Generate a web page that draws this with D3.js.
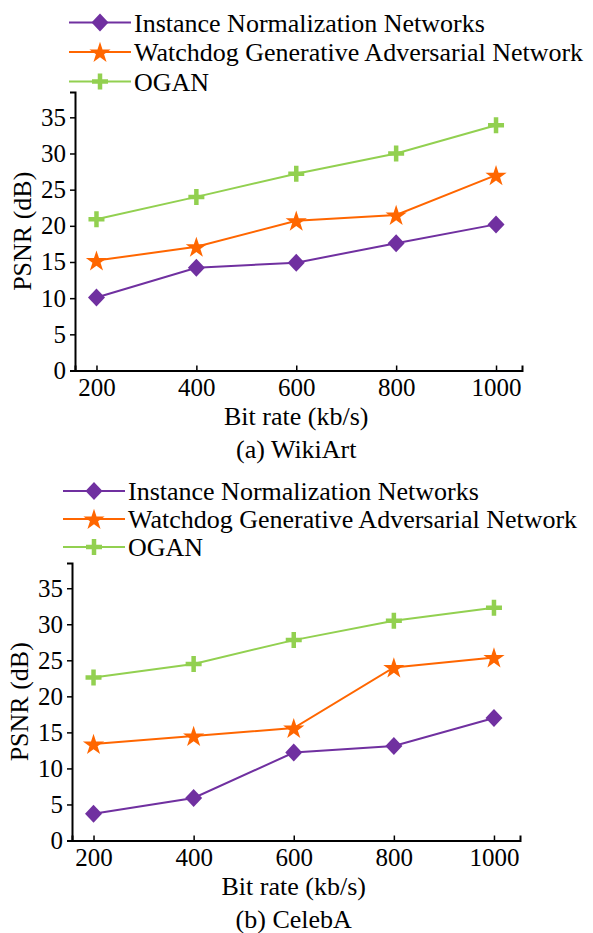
<!DOCTYPE html>
<html lang="en">
<head>
	<meta charset="UTF-8">
	<title>PSNR vs bit rate</title>
	<script src="https://d3js.org/d3.v7.min.js"></script>
	<style>
		body{ margin:0; background:#fff; }
	</style>
</head>
<body>
	<div id="chart"></div>
	<script>
		// data
		const bitRates=[200,400,600,800,1000];
		const seriesNames=["Instance Normalization Networks","Watchdog Generative Adversarial Network","OGAN"];
		const yTicks=[0,5,10,15,20,25,30,35];
		// (a) WikiArt
		const wikiInn=[10.1,14.2,14.9,17.6,20.2];
		const wikiWgan=[15.2,17.1,20.7,21.5,27.0];
		const wikiOgan=[20.9,24.0,27.2,30.0,33.9];
		// (b) CelebA
		const celebInn=[3.7,5.9,12.2,13.1,17.0];
		const celebWgan=[13.4,14.5,15.6,24.0,25.4];
		const celebOgan=[22.6,24.5,27.8,30.5,32.3];

		const colors=["#7030a0","#ff6600","#92d050"];
		const width=593, height=933;
		const font='"Liberation Serif"';

		const svg=d3.select('#chart').append('svg')
			.attr('width',width).attr('height',height);

		const star=d3.symbol().type(d3.symbolStar).size(140)();

		function drawMarker(g,i,x,y){
			if(i===0){
				g.append('path').attr('d',`M${x},${y-9}L${x+8.5},${y}L${x},${y+9}L${x-8.5},${y}Z`).attr('fill',colors[0]);
			}else if(i===1){
				g.append('path').attr('d',star).attr('transform',`translate(${x},${y+1})`).attr('fill',colors[1]);
			}else{
				g.append('path').attr('d',`M${x-8},${y}H${x+8}M${x},${y-8}V${y+8}`)
					.attr('stroke',colors[2]).attr('stroke-width',4.5).attr('fill','none');
			}
		}

		function label(g,size){
			return g.append('text').style('font-family',font).style('font-size',size).attr('fill','#000');
		}

		function panel(p){
			const g=svg.append('g');
			const x=d3.scaleLinear().domain([157,1052]).range([p.left,p.right]);
			const y=d3.scaleLinear().domain([0,38.5]).range([p.bottom,p.top]);

			//legend
			seriesNames.forEach((name,i)=>{
				const ly=p.legendTop+i*p.legendStep;
				g.append('line').attr('x1',p.legendX).attr('x2',p.legendX+62)
					.attr('y1',ly).attr('y2',ly).attr('stroke',colors[i]).attr('stroke-width',2);
				drawMarker(g,i,p.legendX+31,ly);
				label(g,'26px').attr('x',p.legendX+65).attr('y',ly).attr('dy','0.35em').text(name);
			});

			//axes
			const yAxis=d3.axisLeft(y).tickValues(yTicks).tickSize(5).tickPadding(4);
			const xAxis=d3.axisBottom(x).tickValues(bitRates).tickFormat(d3.format('d')).tickSize(-5).tickPadding(8);
			const ya=g.append('g').attr('transform',`translate(${p.left},0)`).call(yAxis);
			const xa=g.append('g').attr('transform',`translate(0,${p.bottom})`).call(xAxis);
			[ya,xa].forEach(a=>{
				a.select('.domain').attr('stroke','#000').attr('stroke-width',2);
				a.selectAll('.tick line').attr('stroke','#000').attr('stroke-width',1.5);
				a.selectAll('.tick text').style('font-size','25px').style('font-family',font);
			});

			label(g,'26px').attr('transform',`translate(${p.left-53},${(p.top+p.bottom)/2}) rotate(-90)`)
				.attr('text-anchor','middle').attr('dy','0.35em').text('PSNR (dB)');
			label(g,'26px').attr('x',x(600)).attr('y',p.bottom+45).attr('text-anchor','middle')
				.attr('dy','0.35em').text('Bit rate (kb/s)');
			label(g,'26px').attr('x',x(600)).attr('y',p.bottom+78).attr('text-anchor','middle')
				.attr('dy','0.35em').text(p.caption);

			//lines
			const line=d3.line().x((d,j)=>x(bitRates[j])).y(d=>y(d));
			p.series.forEach((s,i)=>{
				g.append('path').datum(s).attr('d',line).attr('fill','none')
					.attr('stroke',colors[i]).attr('stroke-width',2);
			});
			p.series.forEach((s,i)=>{
				s.forEach((v,j)=>drawMarker(g,i,x(bitRates[j]),y(v)));
			});
		}

		panel({left:75,right:522,top:92,bottom:370.5,legendX:69,legendTop:22.5,legendStep:29.5,
			caption:'(a) WikiArt',series:[wikiInn,wikiWgan,wikiOgan]});
		panel({left:72,right:520,top:563,bottom:840.5,legendX:63,legendTop:491,legendStep:28,
			caption:'(b) CelebA',series:[celebInn,celebWgan,celebOgan]});
	</script>
</body>
</html>
